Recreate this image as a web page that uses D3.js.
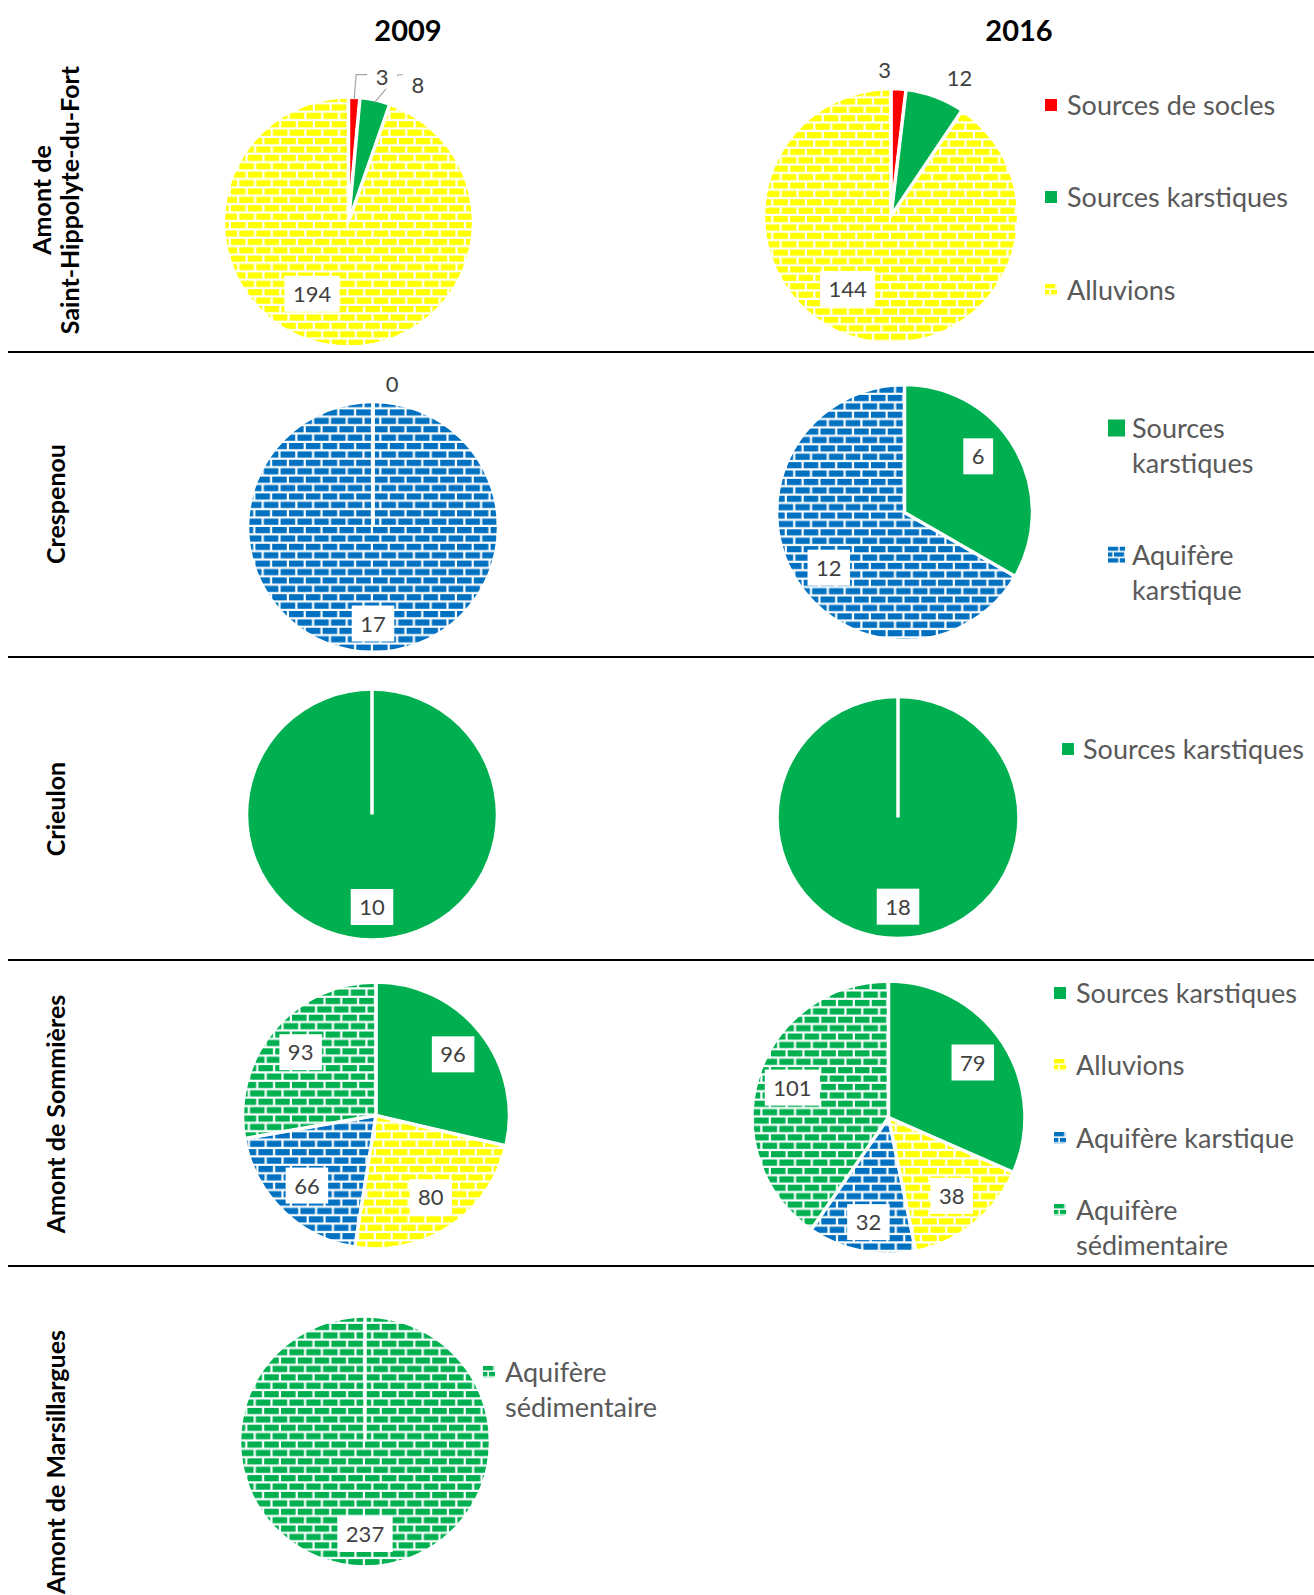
<!DOCTYPE html>
<html>
<head>
<meta charset="utf-8">
<script src="https://cdn.jsdelivr.net/npm/d3@7"></script>
<style>
  body { margin: 0; background: #fff; }
  text { font-family: Lato, "Open Sans", sans-serif; }
</style>
</head>
<body>
<svg id="chart"></svg>
<script>
'use strict'
const W = 1314, H = 1595

// ---- data ----
const years = ["2009", "2016"]
const rowNames = [["Amont de", "Saint-Hippolyte-du-Fort"], ["Crespenou"], ["Crieulon"], ["Amont de Sommières"], ["Amont de Marsillargues"]]

const hippolyteCats = ["Sources de socles", "Sources karstiques", "Alluvions"]
const hippolyte2009 = [3, 8, 194]
const hippolyte2016 = [3, 12, 144]

const crespenouCats = ["Sources karstiques", "Aquifère karstique"]
const crespenou2009 = [0, 17]
const crespenou2016 = [6, 12]

const crieulonCats = ["Sources karstiques"]
const crieulon2009 = [10]
const crieulon2016 = [18]

const sommieresCats = ["Sources karstiques", "Alluvions", "Aquifère karstique", "Aquifère sédimentaire"]
const sommieres2009 = [96, 80, 66, 93]
const sommieres2016 = [79, 38, 32, 101]

const marsillarguesCats = ["Aquifère sédimentaire"]
const marsillargues2009 = [237]

// ---- layout ----
const pies = [
  {cats: hippolyteCats, values: hippolyte2009, cx: 348.5, cy: 222, r: 124.5, nudge: [[27, -3], [39, 2], [-21, -19]], leaders: [0, 1]},
  {cats: hippolyteCats, values: hippolyte2016, cx: 891, cy: 216, r: 127, nudge: [[-15, -1], [18, -2], [-16, -17]]},
  {cats: crespenouCats, values: crespenou2009, cx: 373, cy: 527, r: 125, nudge: [[19, 0], [0, 4]]},
  {cats: crespenouCats, values: crespenou2016, cx: 904.5, cy: 512.5, r: 127.5, nudge: [[-8, -9], [6, 8]]},
  {cats: crieulonCats, values: crieulon2009, cx: 372, cy: 814.5, r: 125},
  {cats: crieulonCats, values: crieulon2016, cx: 898, cy: 817.5, r: 120.5},
  {cats: sommieresCats, values: sommieres2009, cx: 376, cy: 1115.5, r: 133},
  {cats: sommieresCats, values: sommieres2016, cx: 888.5, cy: 1117.5, r: 136, nudge: [[0, 0], [0, 0], [0, 6], [0, 0]]},
  {cats: marsillarguesCats, values: marsillargues2009, cx: 365, cy: 1441.5, r: 125}
]

const legends = [
  {cats: hippolyteCats, sx: 1045, tx: 1067, sq: 12, ys: [105, 197, 290], maxW: 260},
  {cats: crespenouCats, sx: 1108, tx: 1132, sq: 17, ys: [428, 555], maxW: 170},
  {cats: crieulonCats, sx: 1062, tx: 1083, sq: 12, ys: [749], maxW: 240},
  {cats: sommieresCats, sx: 1054, tx: 1076, sq: 12, ys: [993, 1065, 1138, 1210], maxW: 228},
  {cats: marsillarguesCats, sx: 483, tx: 505, sq: 12, ys: [1372], maxW: 170}
]

const separators = [352, 657, 960, 1266]
const yearX = [408, 1019]
const rowLabelY = [200, 504, 809, 1114, null]

const svg = d3.select('#chart').attr('width', W).attr('height', H)
const defs = svg.append('defs')

// brick patterns (Excel "horizontal brick" look)
function makeBrick(id, color, s) {
  let t = 16.8 * s, bw = 14.6 * s, bh = 6.2 * s, half = t / 2
  let p = defs.append('pattern').attr('id', id)
    .attr('patternUnits', 'userSpaceOnUse')
    .attr('width', t).attr('height', t)
  p.append('rect').attr('width', t).attr('height', t).attr('fill', '#fff')
  p.append('rect').attr('x', 0).attr('y', 0).attr('width', bw).attr('height', bh).attr('fill', color)
  p.append('rect').attr('x', -half).attr('y', half).attr('width', bw).attr('height', bh).attr('fill', color)
  p.append('rect').attr('x', half).attr('y', half).attr('width', bw).attr('height', bh).attr('fill', color)
}

const catStyle = {
  "Sources de socles": {color: "#FF0000", brick: false},
  "Sources karstiques": {color: "#00B050", brick: false},
  "Alluvions": {color: "#FFFF00", brick: true, id: "alluv"},
  "Aquifère karstique": {color: "#0070C0", brick: true, id: "aqk"},
  "Aquifère sédimentaire": {color: "#00B050", brick: true, id: "aqs"}
}
Object.values(catStyle).forEach(function(st) {
  if (st.brick) {
    makeBrick(st.id, st.color, 1)
    makeBrick(st.id + '_sm', st.color, 0.7)
  }
})
function fillFor(cat, small) {
  let st = catStyle[cat]
  if (!st.brick) return st.color
  return 'url(#' + st.id + (small ? '_sm' : '') + ')'
}

// headers
svg.selectAll('.year').data(years).enter().append('text')
  .attr('class', 'year')
  .attr('x', (d, i) => yearX[i]).attr('y', 29)
  .attr('text-anchor', 'middle').attr('dominant-baseline', 'central')
  .style('font-weight', 'bold').style('font-size', '29px').style('fill', '#000')
  .text(d => d)

// separators
svg.selectAll('.sep').data(separators).enter().append('line')
  .attr('x1', 8).attr('x2', W).attr('y1', d => d).attr('y2', d => d)
  .attr('stroke', '#000').attr('stroke-width', 2)

// row labels
rowNames.forEach(function(lines, i) {
  let g = svg.append('g')
  let n = lines.length
  lines.forEach(function(line, j) {
    let x = 55 + (j - (n - 1) / 2) * 28
    let t = g.append('text')
      .style('font-weight', 'bold').style('font-size', '25px').style('fill', '#000')
      .attr('dominant-baseline', 'central')
      .text(line)
    if (rowLabelY[i] != null) {
      t.attr('text-anchor', 'middle')
        .attr('transform', 'translate(' + x + ',' + rowLabelY[i] + ') rotate(-90)')
    } else {
      // last label starts near the top of its band and runs off the bottom
      t.attr('text-anchor', 'end')
        .attr('transform', 'translate(' + x + ',' + 1330 + ') rotate(-90)')
    }
  })
})

// pies
const pieGen = d3.pie().sort(null).value(d => d)

pies.forEach(function(p) {
  let arcs = pieGen(p.values)
  let total = d3.sum(p.values)
  let arc = d3.arc().innerRadius(0).outerRadius(p.r)
  let inLab = d3.arc().innerRadius(p.r * 0.74).outerRadius(p.r * 0.74)
  let outLab = d3.arc().innerRadius(p.r + 18).outerRadius(p.r + 18)
  let g = svg.append('g').attr('transform', 'translate(' + p.cx + ',' + p.cy + ')')

  g.selectAll('path').data(arcs).enter().append('path')
    .attr('d', arc)
    .attr('fill', (d, i) => fillFor(p.cats[i]))
    .attr('stroke', '#fff').attr('stroke-width', 2.5)
    .attr('stroke-linejoin', 'round')

  // white slice borders from centre (also shows the seam on full circles)
  g.selectAll('.seam').data(arcs).enter().append('line')
    .attr('x1', 0).attr('y1', 0)
    .attr('x2', d => Math.sin(d.startAngle) * (p.r + 1))
    .attr('y2', d => -Math.cos(d.startAngle) * (p.r + 1))
    .attr('stroke', '#fff').attr('stroke-width', 3.5)

  let labs = arcs.map(function(d, i) {
    let outside = d.value / total < 0.1
    let c = outside ? outLab.centroid(d) : inLab.centroid(d)
    let nd = p.nudge ? p.nudge[i] : [0, 0]
    return {d: d, i: i, outside: outside, x: c[0] + nd[0], y: c[1] + nd[1]}
  })

  // leader lines
  if (p.leaders) {
    p.leaders.forEach(function(li) {
      let L = labs[li]
      let mid = (L.d.startAngle + L.d.endAngle) / 2
      let sx = Math.sin(mid) * (p.r - 2), sy = -Math.cos(mid) * (p.r - 2)
      let pts = li == 0
        ? [[sx, sy], [sx + 2, L.y - 2], [L.x - 14, L.y - 2]]
        : [[sx, sy], [L.x - 20, L.y - 10], [L.x - 13, L.y - 10]]
      g.append('path').attr('d', d3.line()(pts))
        .attr('fill', 'none').attr('stroke', '#a6a6a6').attr('stroke-width', 1.2)
    })
  }

  labs.forEach(function(L) {
    let lg = g.append('g').attr('transform', 'translate(' + L.x + ',' + L.y + ')')
    let bg = lg.append('rect').attr('fill', '#fff')
    let t = lg.append('text')
      .attr('text-anchor', 'middle').attr('y', 8)
      .style('font-size', '22px').style('fill', '#404040')
      .text(L.d.value)
    let w = t.node().getComputedTextLength()
    let bh = L.outside ? 24 : 36
    bg.attr('x', -w / 2 - 8.5).attr('y', -bh / 2).attr('width', w + 17).attr('height', bh)
  })
})

// legends
legends.forEach(function(lgd) {
  lgd.cats.forEach(function(cat, i) {
    let y = lgd.ys[i]
    let ig = svg.append('g').attr('transform', 'translate(' + lgd.sx + ',' + (y - lgd.sq / 2) + ')')
    ig.append('rect').attr('width', lgd.sq).attr('height', lgd.sq).attr('fill', fillFor(cat, true))

    let t = svg.append('text')
      .attr('x', lgd.tx).attr('y', y + 9.5)
      .style('font-size', '27px').style('fill', '#595959')
    // simple word wrap
    let words = cat.split(' ')
    let line = []
    let ts = t.append('tspan').attr('x', lgd.tx).attr('dy', 0)
    words.forEach(function(w) {
      line.push(w)
      ts.text(line.join(' '))
      if (ts.node().getComputedTextLength() > lgd.maxW && line.length > 1) {
        line.pop()
        ts.text(line.join(' '))
        line = [w]
        ts = t.append('tspan').attr('x', lgd.tx).attr('dy', 35).text(w)
      }
    })
  })
})
</script>
</body>
</html>
